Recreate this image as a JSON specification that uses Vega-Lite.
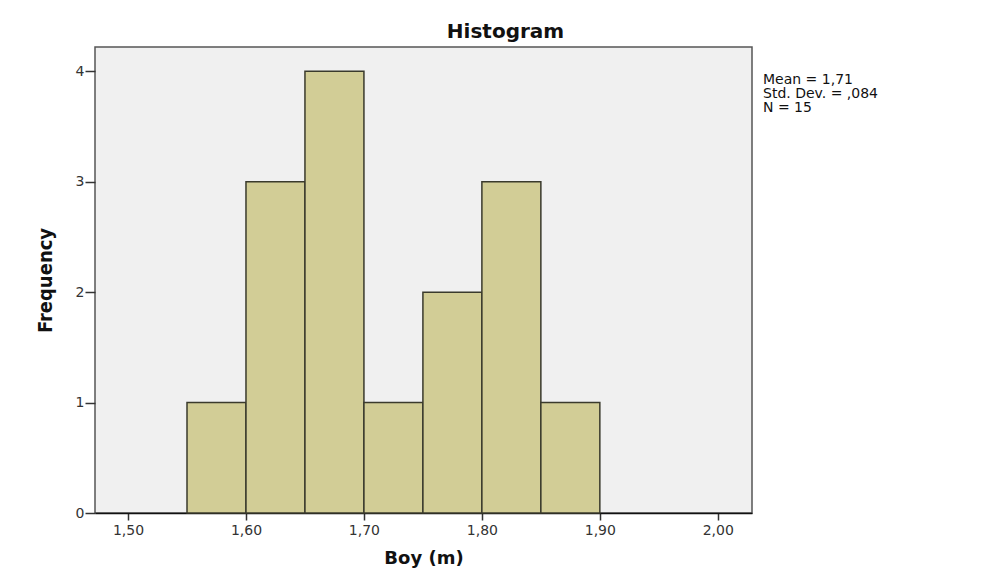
{
  "$schema": "https://vega.github.io/schema/vega-lite/v6.json",
  "width": 657,
  "height": 466,
  "autosize": {"type": "none"},
  "padding": {"left": 95, "top": 47, "right": 251, "bottom": 68},
  "background": "white",
  "view": {"fill": "#f0f0f0", "stroke": "#555", "strokeWidth": 1.5},
  "title": {
    "text": "Histogram",
    "font": "DejaVu Sans",
    "fontSize": 20,
    "fontWeight": "bold",
    "color": "#111",
    "baseline": "alphabetic",
    "offset": -11,
    "dx": 82
  },
  "config": {
    "view": {"fill": "#f0f0f0", "stroke": "#555", "strokeWidth": 1.5},
    "axis": {"grid": false, "labelFont": "DejaVu Sans", "labelFontSize": 14, "labelColor": "#333", "tickColor": "#333", "tickWidth": 1.5}
  },
  "layer": [
    {
      "data": {"values": [
        {"bin_start": 1.55, "bin_end": 1.60, "count": 1},
        {"bin_start": 1.60, "bin_end": 1.65, "count": 3},
        {"bin_start": 1.65, "bin_end": 1.70, "count": 4},
        {"bin_start": 1.70, "bin_end": 1.75, "count": 1},
        {"bin_start": 1.75, "bin_end": 1.80, "count": 2},
        {"bin_start": 1.80, "bin_end": 1.85, "count": 3},
        {"bin_start": 1.85, "bin_end": 1.90, "count": 1}
      ]},
      "mark": {"type": "bar", "fill": "#d2cd96", "stroke": "#3a3a2c", "strokeWidth": 1.5},
      "encoding": {
        "x": {
          "field": "bin_start", "type": "quantitative",
          "scale": {"domain": [1.472, 2.029], "nice": false, "zero": false},
          "axis": {
            "values": [1.5, 1.6, 1.7, 1.8, 1.9, 2.0],
            "labelExpr": "replace(format(datum.value, '.2f'), '.', ',')",
            "tickSize": 7, "labelPadding": 3,
            "domainColor": "#111", "domainWidth": 1.5,
            "title": "Boy (m)", "titleFont": "DejaVu Sans", "titleFontSize": 18, "titleFontWeight": "bold", "titleColor": "#111", "titlePadding": 12
          }
        },
        "x2": {"field": "bin_end"},
        "y": {
          "field": "count", "type": "quantitative",
          "scale": {"domain": [0, 4.22], "nice": false},
          "axis": {
            "values": [0, 1, 2, 3, 4], "format": "d",
            "tickSize": 10, "labelPadding": 1, "domain": false,
            "title": "Frequency", "titleFont": "'Liberation Sans Narrow', 'DejaVu Sans Condensed', 'Liberation Sans'", "titleFontSize": 20, "titleFontWeight": "bold", "titleColor": "#111", "titlePadding": 20
          }
        },
        "y2": {"datum": 0}
      }
    },
    {
      "data": {"values": [
        {"stat": "Mean = 1,71"},
        {"stat": "Std. Dev. = ,084"},
        {"stat": "N = 15"}
      ]},
      "mark": {"type": "text", "opacity": 0},
      "encoding": {
        "text": {"field": "stat"},
        "color": {
          "field": "stat", "type": "nominal",
          "scale": {"domain": ["Mean = 1,71", "Std. Dev. = ,084", "N = 15"], "range": ["#111", "#111", "#111"]},
          "legend": {
            "title": null, "orient": "none", "legendX": 654, "legendY": 26,
            "symbolSize": 0, "symbolStrokeWidth": 0, "symbolOpacity": 0, "labelOffset": 0,
            "labelFont": "DejaVu Sans", "labelFontSize": 14, "labelColor": "#111", "rowPadding": -4
          }
        }
      }
    }
  ]
}
